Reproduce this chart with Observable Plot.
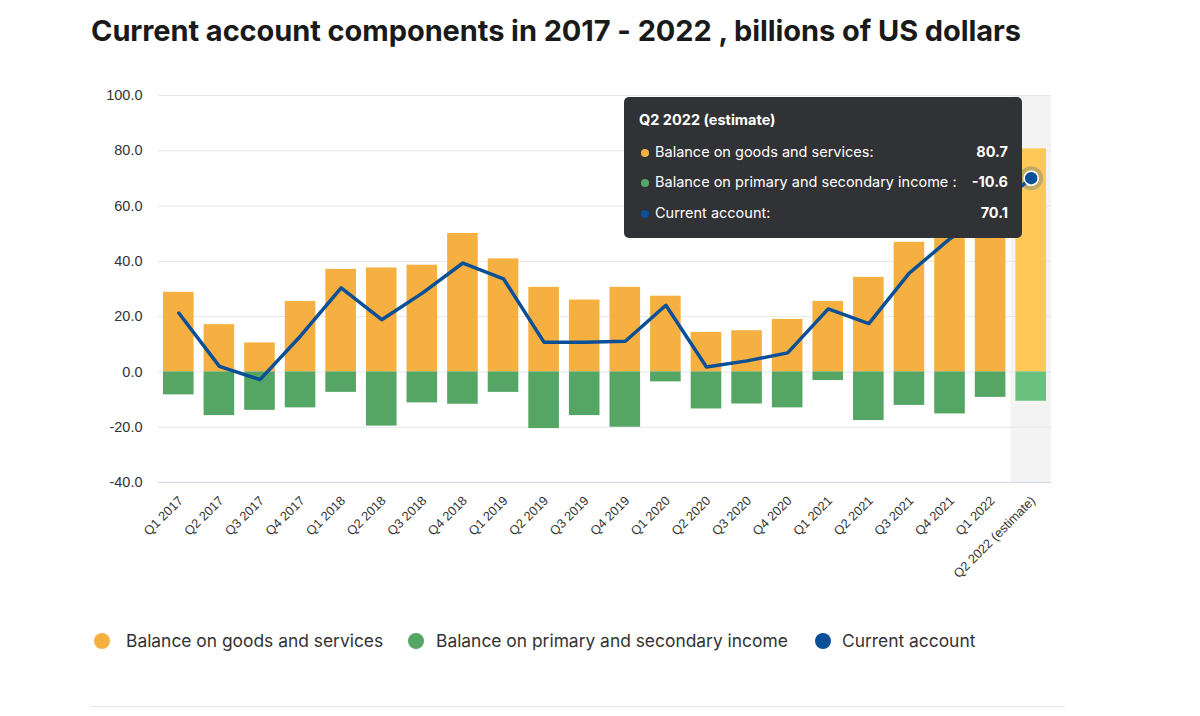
<!DOCTYPE html>
<html>
<head>
<meta charset="utf-8">
<script src="https://cdn.jsdelivr.net/npm/d3@7"></script>
<script src="https://cdn.jsdelivr.net/npm/@observablehq/plot@0.6"></script>
<style>
  body { margin: 0; background: #fff; width: 1200px; height: 716px; overflow: hidden; position: relative; font-family: Inter, Roboto, sans-serif; }
  #title { position: absolute; left: 91px; top: 13px; font: 700 29px Inter, Roboto, sans-serif; color: #1a1a1a; white-space: nowrap; }
  #chart { position: absolute; left: 0; top: 0; }
  #tip { position: absolute; left: 624px; top: 97px; width: 398px; height: 141px; background: #313235; border-radius: 5px; color: #fff; font-family: Inter, Roboto, sans-serif; }
  #tip .t { position: absolute; left: 15px; top: 14px; font-weight: 700; font-size: 14.5px; }
  #tip .row { position: absolute; left: 15px; right: 14px; height: 20px; font-size: 14.5px; }
  #tip .row .dot { position: absolute; left: 2px; top: 6px; width: 8px; height: 8px; border-radius: 50%; }
  #tip .row .lab { position: absolute; left: 16px; top: 0; white-space: nowrap; }
  #tip .row .val { position: absolute; right: 0; top: 0; font-weight: 700; }
  #legend { position: absolute; left: 94px; top: 628px; height: 26px; font-size: 17.4px; color: #333; }
  #legend .it { position: absolute; top: 0; white-space: nowrap; }
  #legend .sw { position: absolute; left: 0; top: 5px; width: 16px; height: 16px; border-radius: 50%; }
  #legend .tx { position: absolute; top: 2px; }
  #rule { position: absolute; left: 90px; top: 706px; width: 975px; height: 1px; background: #e6e6e6; }
</style>
</head>
<body>
<div id="title">Current account components in 2017 - 2022 , billions of US dollars</div>
<div id="chart"></div>
<div id="tip"></div>
<div id="legend"></div>
<div id="rule"></div>
<script>
const quarters = ["Q1 2017","Q2 2017","Q3 2017","Q4 2017","Q1 2018","Q2 2018","Q3 2018","Q4 2018","Q1 2019","Q2 2019","Q3 2019","Q4 2019","Q1 2020","Q2 2020","Q3 2020","Q4 2020","Q1 2021","Q2 2021","Q3 2021","Q4 2021","Q1 2022","Q2 2022 (estimate)"];
const goods = [28.8, 17.1, 10.5, 25.5, 37.1, 37.6, 38.6, 50.1, 40.9, 30.6, 26.0, 30.6, 27.4, 14.3, 14.9, 19.0, 25.5, 34.2, 46.9, 63.4, 67.4, 80.7];
const income = [-8.3, -15.8, -13.9, -13.0, -7.4, -19.6, -11.2, -11.7, -7.4, -20.5, -15.8, -20.0, -3.6, -13.4, -11.6, -13.0, -3.1, -17.6, -12.1, -15.2, -9.2, -10.6];
const current = [21.3, 2.0, -2.8, 13.0, 30.4, 18.9, 28.5, 39.4, 33.7, 10.7, 10.7, 11.1, 24.1, 1.8, 4.0, 6.9, 22.8, 17.5, 35.8, 48.2, 58.2, 70.1];
const yTicks = [-40, -20, 0, 20, 40, 60, 80, 100];
const seriesNames = ["Balance on goods and services", "Balance on primary and secondary income", "Current account"];
const seriesColors = ["#f5b041", "#55a664", "#0b4f97"];
const seriesHover = ["#fec957", "#6cbf7c", "#0b4f97"];

const data = quarters.map((q, i) => ({q, goods: goods[i], income: income[i], ca: current[i], est: i === quarters.length - 1}));
const last = data[data.length - 1];

const plot = Plot.plot({
  width: 1200,
  height: 600,
  marginTop: 95,
  marginBottom: 118,
  marginLeft: 158,
  marginRight: 149,
  style: {fontFamily: "'Liberation Sans', Arial, sans-serif", background: "transparent"},
  x: {domain: quarters, padding: 0, round: false, label: null},
  y: {domain: [-40, 100], label: null},
  marks: [
    Plot.barY([last], {x: "q", y1: -40, y2: 100, fill: "#f3f3f3"}),
    Plot.gridY(yTicks, {stroke: "#e6e6e6", strokeOpacity: 1}),
    Plot.ruleY([-40], {stroke: "#ccd6eb"}),
    Plot.barY(data, {x: "q", y1: 0, y2: "goods", fill: d => d.est ? seriesHover[0] : seriesColors[0], insetLeft: 5, insetRight: 5}),
    Plot.barY(data, {x: "q", y1: 0, y2: "income", fill: d => d.est ? seriesHover[1] : seriesColors[1], insetLeft: 5, insetRight: 5}),
    Plot.line(data, {x: "q", y: "ca", stroke: seriesColors[2], strokeWidth: 3.5}),
    Plot.dot([last], {x: "q", y: "ca", r: 10, fill: "none", stroke: seriesColors[2], strokeOpacity: 0.25, strokeWidth: 4}),
    Plot.dot([last], {x: "q", y: "ca", r: 7, fill: seriesColors[2], stroke: "#fff", strokeWidth: 1.5}),
    Plot.axisY(yTicks, {tickSize: 0, tickPadding: 16, tickFormat: d => d.toFixed(1), fontSize: 14.5, fill: "#333", label: null}),
    Plot.axisX({tickSize: 0, tickPadding: 16, tickRotate: -45, fontSize: 12.8, fill: "#333", dx: 2, label: null})
  ]
});
document.getElementById("chart").appendChild(plot);

// fit title to reference width
const title = document.getElementById("title");
const tw = title.getBoundingClientRect().width;
const chars = title.textContent.length;
title.style.letterSpacing = ((930 - tw) / chars).toFixed(3) + "px";

// tooltip
const tip = document.getElementById("tip");
tip.innerHTML = `<div class="t">${last.q}</div>`;
const vals = [last.goods, last.income, last.ca];
const labs = ["Balance on goods and services:", "Balance on primary and secondary income :", "Current account:"];
const tops = [46, 76, 107];
labs.forEach((l, i) => {
  const r = document.createElement("div");
  r.className = "row";
  r.style.top = tops[i] + "px";
  r.innerHTML = `<span class="dot" style="background:${seriesColors[i]}"></span><span class="lab">${l}</span><span class="val">${vals[i].toFixed(1)}</span>`;
  tip.appendChild(r);
});

// legend
const legend = document.getElementById("legend");
const lefts = [0, 314, 721];
const txLeft = [32, 28, 27];
seriesNames.forEach((n, i) => {
  const it = document.createElement("div");
  it.className = "it";
  it.style.left = lefts[i] + "px";
  it.innerHTML = `<span class="sw" style="background:${seriesColors[i]}"></span><span class="tx" style="left:${txLeft[i]}px">${n}</span>`;
  legend.appendChild(it);
});
</script>
</body>
</html>
